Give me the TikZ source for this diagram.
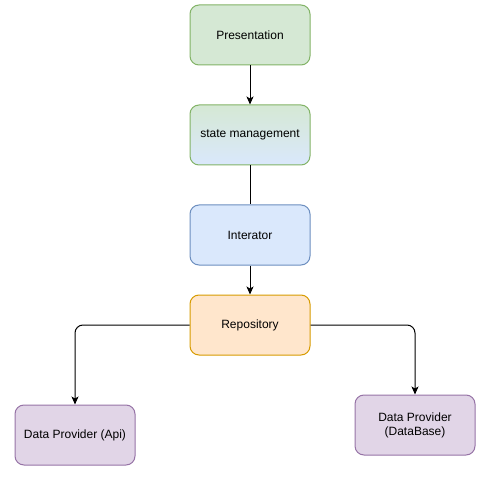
\documentclass[tikz,border=0pt]{standalone}
\usepackage{fontspec}
\setmainfont{Liberation Sans}
\usetikzlibrary{arrows.meta,positioning}

\definecolor{greenfill}{HTML}{D5E8D4}
\definecolor{greenline}{HTML}{82B366}
\definecolor{bluefill}{HTML}{DAE8FC}
\definecolor{blueline}{HTML}{6C8EBF}
\definecolor{orangefill}{HTML}{FFE6CC}
\definecolor{orangeline}{HTML}{D79B00}
\definecolor{purplefill}{HTML}{E1D5E7}
\definecolor{purpleline}{HTML}{9673A6}

\begin{document}
\begin{tikzpicture}[
      x=1pt,y=-1pt,
      layer/.style={rectangle,rounded corners=9pt,line width=1pt,minimum width=120pt,
        minimum height=60pt,inner sep=0pt,align=center,font=\fontsize{12pt}{14pt}\selectfont},
      greenbox/.style={layer,draw=greenline,fill=greenfill},
      mixbox/.style={layer,draw=greenline,top color=greenfill,bottom color=bluefill},
      bluebox/.style={layer,draw=blueline,fill=bluefill},
      orangebox/.style={layer,draw=orangeline,fill=orangefill},
      purplebox/.style={layer,draw=purpleline,fill=purplefill},
      arrow/.style={-{Stealth[length=8pt,width=7pt,inset=2pt]},line width=1pt,draw=black},
      link/.style={line width=1pt,draw=black}
    ]

    \useasboundingbox (0,0) rectangle (489,486);

    % Main stack
    \node[greenbox]  (Pres)  at (250,35)  {Presentation};
    \node[mixbox]    (State) at (250,135) {state management};
    \node[bluebox]   (Inter) at (250,235) {Interator};
    \node[orangebox] (Repo)  at (250,325) {Repository};

    \draw[arrow] (Pres) -- (State);
    \draw[link]  (State) -- (Inter);
    \draw[arrow] (Inter) -- (Repo);

    % Providers
    \node[purplebox] (Api) at (75,435)  {Data Provider (Api)};
    \node[purplebox] (DB)  at (415,425) {Data Provider\\(DataBase)};

    \draw[arrow,rounded corners=8pt] (Repo.west) -| (Api.north);
    \draw[arrow,rounded corners=8pt] (Repo.east) -| (DB.north);

  \end{tikzpicture}
\end{document}
